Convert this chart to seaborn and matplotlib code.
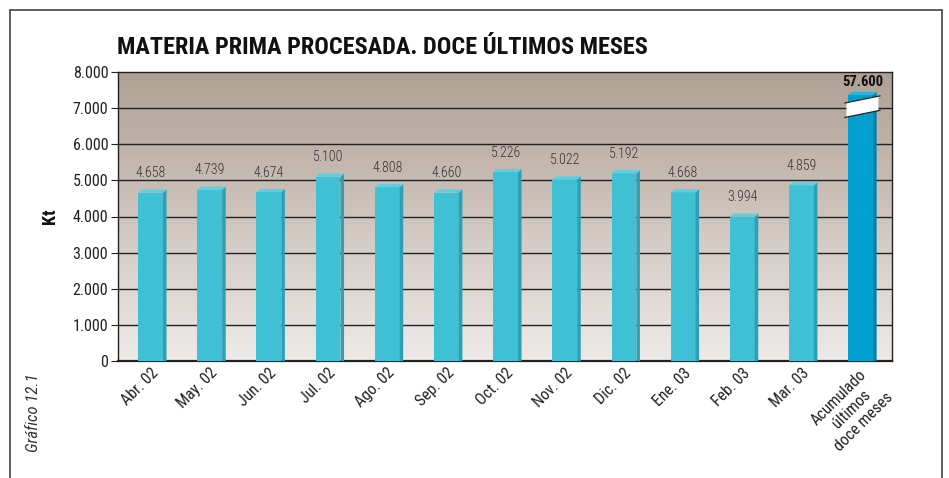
import numpy as np
import matplotlib
matplotlib.use("Agg")
import matplotlib.pyplot as plt
from matplotlib.patches import Polygon
from matplotlib.lines import Line2D
import seaborn as sns

categories = ["Abr. 02", "May. 02", "Jun. 02", "Jul. 02", "Ago. 02", "Sep. 02",
              "Oct. 02", "Nov. 02", "Dic. 02", "Ene. 03", "Feb. 03", "Mar. 03",
              "Acumulado\núltimos\ndoce meses"]
monthly = [4658, 4739, 4674, 5100, 4808, 4660, 5226, 5022, 5192, 4668, 3994, 4859]
total_value = 57600
total_drawn = 7360  # broken-axis bar height as drawn
yticks = [0, 1000, 2000, 3000, 4000, 5000, 6000, 7000, 8000]
ytick_labels = ["0", "1.000", "2.000", "3.000", "4.000", "5.000", "6.000", "7.000", "8.000"]
value_labels = ["4.658", "4.739", "4.674", "5.100", "4.808", "4.660", "5.226",
                "5.022", "5.192", "4.668", "3.994", "4.859"]
total_label = "57.600"

sns.set_theme(style="white")
plt.rcParams['font.family'] = ['Roboto Condensed', 'DejaVu Sans']

heights = monthly + [total_drawn]
front = ["#3fc0d4"] * 12 + ["#009fce"]
side = ["#2da0b4"] * 12 + ["#0080aa"]
topc = ["#5fcfe0"] * 12 + ["#2bb3dd"]

fig = plt.figure(figsize=(9.49, 4.78), dpi=100)
ax = fig.add_axes([118/949, 1-361/478, (892-118)/949, (361-72)/478])

# gradient background (row 0 = top)
grad = np.linspace(0, 1, 256).reshape(-1, 1)
top_rgb = np.array([176, 160, 148]) / 255
bot_rgb = np.array([237, 234, 232]) / 255
img = top_rgb[None, None, :] * (1 - grad[:, :, None]) + bot_rgb[None, None, :] * grad[:, :, None]
ax.imshow(img, extent=[-0.55, 12.53, 0, 8000], aspect='auto', zorder=0, origin='upper')

for y in yticks[1:-1]:
    ax.axhline(y, color="#222222", lw=1.0, zorder=1)

sns.barplot(x=categories, y=heights, hue=categories, palette=front, legend=False,
            width=0.42, order=categories, hue_order=categories, saturation=1,
            ax=ax, zorder=3, linewidth=0)
ax.set_xlim(-0.55, 12.53)
ax.set_ylim(0, 8000)

dx, dy = 0.06, 90
for i, p in enumerate(ax.patches):
    x0 = p.get_x(); w = p.get_width(); h = p.get_height()
    x1 = x0 + w
    ax.add_patch(Polygon([(x1, 0), (x1 + dx, 0), (x1 + dx, h + dy), (x1, h)],
                         closed=True, fc=side[i], ec="none", zorder=3))
    ax.add_patch(Polygon([(x0, h), (x0 + dx, h + dy), (x1 + dx, h + dy), (x1, h)],
                         closed=True, fc=topc[i], ec="none", zorder=3))
    if i < 12:
        ax.text(x0 + w / 2, h + 350, value_labels[i], ha="center", va="bottom",
                fontsize=10, fontweight="light", color="#333333", zorder=5)
    else:
        ax.text(x0 + w / 2 + 0.03, h + 180, total_label, ha="center", va="bottom",
                fontsize=10.5, fontweight="bold", color="#111111", zorder=5)
        # break mark
        xl, xr = x0 - 0.03, x1 + dx + 0.03
        brk = Polygon([(xl, 6750), (xr, 6930), (xr, 7330), (xl, 7150)], closed=True,
                      fc="white", ec="none", zorder=4)
        ax.add_patch(brk)
        ax.add_line(Line2D([xl - 0.03, xr + 0.03], [6740, 6940], color="#222222", lw=0.9, zorder=4))
        ax.add_line(Line2D([xl - 0.03, xr + 0.03], [7140, 7340], color="#222222", lw=0.9, zorder=4))

ax.set_yticks(yticks)
ax.set_yticklabels(ytick_labels, fontsize=11.5, color="#222222")
ax.tick_params(axis="y", length=5, width=0.8, color="#222222", left=True, pad=2)
ax.tick_params(axis="x", length=0, pad=3)
ax.set_xticks(range(len(categories)))
ax.set_xticklabels(categories, rotation=45, ha="right", rotation_mode="anchor",
                   fontsize=11.5, color="#222222", multialignment="center")
for sp in ax.spines.values():
    sp.set_visible(True)
    sp.set_color("#222222")
    sp.set_linewidth(1.0)
ax.spines["bottom"].set_linewidth(1.6)
ax.set_xlabel("")
ax.set_ylabel("Kt", fontsize=13, fontweight="bold", labelpad=10, color="#111111")

fig.text(117/949, 1-47/478, "MATERIA PRIMA PROCESADA. DOCE ÚLTIMOS MESES",
         fontsize=17.5, fontweight="bold", ha="left", va="center", color="#111111")
fig.text(33/949, 1-413/478, "Gráfico 12.1", rotation=90, fontstyle="italic",
         fontsize=12, ha="center", va="center", color="#333333")

# outer frame
fig.add_artist(Line2D([10/949, 10/949], [0, 1-10/478], transform=fig.transFigure, color="#444444", lw=1.2))
fig.add_artist(Line2D([10/949, 942/949], [1-10/478, 1-10/478], transform=fig.transFigure, color="#444444", lw=1.2))
fig.add_artist(Line2D([942/949, 942/949], [0, 1-10/478], transform=fig.transFigure, color="#444444", lw=1.2))

fig.savefig("out.png", dpi=100)
